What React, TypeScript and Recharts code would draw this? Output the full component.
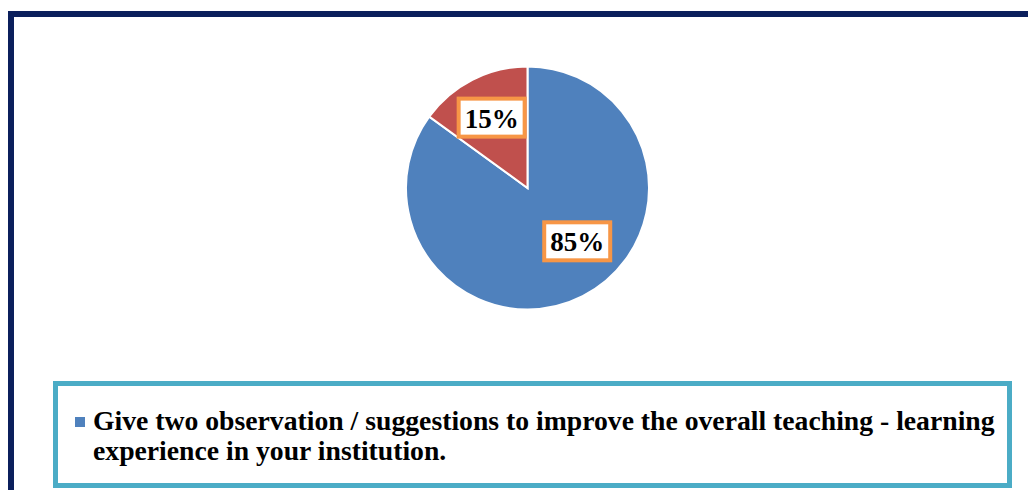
import React from 'react';
import { PieChart, Pie, Cell, Legend } from 'recharts';

const categories = ['Give two observation / suggestions to improve the overall teaching - learning experience in your institution.', 'Other'];
const values = [85, 15];
const valueLabels = ['85%', '15%'];
const colors = ['#4F81BD', '#C0504D'];

const data = categories.map((name, i) => ({ name, value: values[i], label: valueLabels[i] }));

const RAD = Math.PI / 180;
const LABEL_ANGLE_SHIFT = [16, 0];
const LABEL_RADIUS_FRAC = [0.6, 0.65];

const renderLabel = (props: any) => {
  const { cx, cy, midAngle, outerRadius, index } = props;
  const a = (midAngle + LABEL_ANGLE_SHIFT[index]) * RAD;
  const r = outerRadius * LABEL_RADIUS_FRAC[index];
  const x = cx + r * Math.cos(a);
  const y = cy - r * Math.sin(a);
  const w = 66;
  const h = 38;
  return (
    <g>
      <rect x={x - w / 2} y={y - h / 2} width={w} height={h} fill="#FFFFFF" stroke="#F79646" strokeWidth={4} />
      <text x={x} y={y + 1} textAnchor="middle" dominantBaseline="central" fontFamily="'Liberation Serif', 'Times New Roman', serif" fontWeight="bold" fontSize={27} fill="#000000">
        {data[index].label}
      </text>
    </g>
  );
};

const renderLegend = (props: any) => {
  const item = props.payload && props.payload[0];
  const color = item ? item.color : colors[0];
  const text = item ? item.value : categories[0];
  return (
    <div style={{ boxSizing: 'border-box', width: 959, height: 107, border: '5px solid #4BACC6', background: '#FFFFFF', position: 'relative' }}>
      <div style={{ position: 'absolute', left: 17, top: 31, width: 10, height: 10, background: color }} />
      <div style={{ position: 'absolute', left: 35, top: 20, width: 920, fontFamily: "'Liberation Serif', 'Times New Roman', serif", fontWeight: 'bold', fontSize: 27.7, lineHeight: '30px', color: '#000000', textAlign: 'left' }}>
        {text}
      </div>
    </div>
  );
};

export default function App() {
  return (
    <div style={{ position: 'relative', width: 1028, height: 482, overflow: 'hidden', background: '#FFFFFF' }}>
      <div style={{ position: 'absolute', left: 0, top: 3, width: 1100, height: 600, border: '6px solid #0B1F5C', boxSizing: 'border-box' }} />
      <div style={{ position: 'absolute', left: 0, top: 0 }}>
        <PieChart width={1028} height={482} margin={{ top: 0, right: 0, bottom: 0, left: 0 }}>
          <Pie
            data={[data[0], data[1]]}
            dataKey="value"
            nameKey="name"
            cx={519.5}
            cy={180}
            outerRadius={121.5}
            startAngle={90}
            endAngle={-270}
            stroke="#FFFFFF"
            strokeWidth={2}
            label={renderLabel}
            labelLine={false}
            isAnimationActive={false}
          >
            {data.map((d, i) => (
              <Cell key={d.name} fill={colors[i]} />
            ))}
          </Pie>
          <Legend
            content={renderLegend}
            wrapperStyle={{ position: 'absolute', left: 45, top: 373, width: 959, height: 107 }}
          />
        </PieChart>
      </div>
    </div>
  );
}
